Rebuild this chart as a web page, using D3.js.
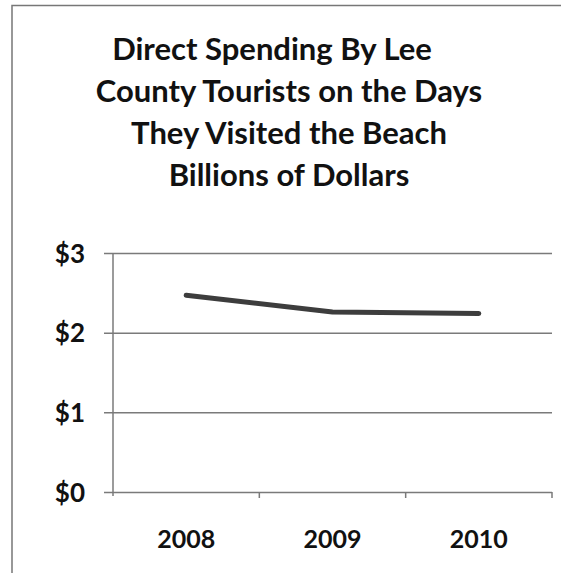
<!DOCTYPE html>
<html>
<head>
<meta charset="utf-8">
<script src="https://cdn.jsdelivr.net/npm/d3@7/dist/d3.min.js"></script>
<style>
  html, body { margin: 0; padding: 0; background: #fff; overflow: hidden; }
  svg { display: block; }
  text { font-family: Lato, "Open Sans", "DejaVu Sans", sans-serif; font-weight: bold; fill: #111; }
</style>
</head>
<body>
<svg id="chart" width="561" height="573"></svg>
<script>
// Direct spending by Lee County beach-day tourists, billions of dollars
const years = ["2008", "2009", "2010"];
const spending = [2.47, 2.26, 2.24];
const yTicks = [0, 1, 2, 3];
const titleLines = [
  "Direct Spending By Lee",
  "County Tourists on the Days",
  "They Visited the Beach",
  "Billions of Dollars"
];

const svg = d3.select("#chart");
const W = 561, H = 573;
const FONT = "Lato, \"Open Sans\", sans-serif";

// outer frame: only the left and top edges fall inside the page
svg.append("path")
  .attr("d", d3.line()([[12, H + 2], [12, 5.5], [W + 2, 5.5]]))
  .attr("fill", "none")
  .attr("stroke", "#777")
  .attr("stroke-width", 1.5);

// title
svg.append("g").selectAll("text")
  .data(titleLines)
  .join("text")
  .attr("x", (d, i) => i === 0 ? 272 : 289)
  .attr("y", (d, i) => 60 + i * 42)
  .attr("text-anchor", "middle")
  .attr("font-size", 31)
  .text(d => d);

const plot = { left: 113, right: 552, top: 253, bottom: 492 };

const x = d3.scaleBand().domain(years).range([plot.left, plot.right]);
const y = d3.scaleLinear().domain([0, 3]).range([plot.bottom, plot.top]);

// horizontal gridlines with short ticks to the left of the axis
const yAxis = d3.axisLeft(y)
  .tickValues(yTicks)
  .tickSizeOuter(0)
  .tickPadding(0)
  .tickFormat(d => "$" + d);

const gy = svg.append("g")
  .attr("transform", `translate(${plot.left - 9},0)`)
  .call(yAxis);
gy.select(".domain").remove();
gy.selectAll(".tick line")
  .attr("x1", 0)
  .attr("x2", plot.right - plot.left + 9)
  .attr("stroke", "#7a7a7a")
  .attr("stroke-width", 1.5);
gy.selectAll(".tick text")
  .attr("x", -19)
  .attr("dy", "0.35em")
  .attr("font-size", 26)
  .attr("font-family", FONT)
  .attr("font-weight", "bold")
  .attr("fill", "#111");

// vertical value axis line
svg.append("line")
  .attr("x1", plot.left).attr("x2", plot.left)
  .attr("y1", plot.top).attr("y2", plot.bottom + 4)
  .attr("stroke", "#7a7a7a")
  .attr("stroke-width", 1.5);

// category axis: tick marks at band boundaries, labels at band centres
const xAxis = d3.axisBottom(x).tickSize(0).tickPadding(0);
const gx = svg.append("g")
  .attr("transform", `translate(0,${plot.bottom})`)
  .call(xAxis);
gx.select(".domain").remove();
gx.selectAll(".tick text")
  .attr("y", 56)
  .attr("dy", 0)
  .attr("font-size", 25)
  .attr("font-family", FONT)
  .attr("font-weight", "bold")
  .attr("fill", "#111");

gx.selectAll(".band-tick")
  .data(years)
  .join("line")
  .attr("class", "band-tick")
  .attr("x1", d => x(d) + x.bandwidth())
  .attr("x2", d => x(d) + x.bandwidth())
  .attr("y1", 0).attr("y2", 6)
  .attr("stroke", "#7a7a7a")
  .attr("stroke-width", 1.5);

// spending line
const line = d3.line()
  .x((d, i) => x(years[i]) + x.bandwidth() / 2)
  .y(d => y(d));

svg.append("path")
  .datum(spending)
  .attr("d", line)
  .attr("fill", "none")
  .attr("stroke", "#3d3d3d")
  .attr("stroke-width", 5)
  .attr("stroke-linecap", "round")
  .attr("stroke-linejoin", "round");
</script>
</body>
</html>
